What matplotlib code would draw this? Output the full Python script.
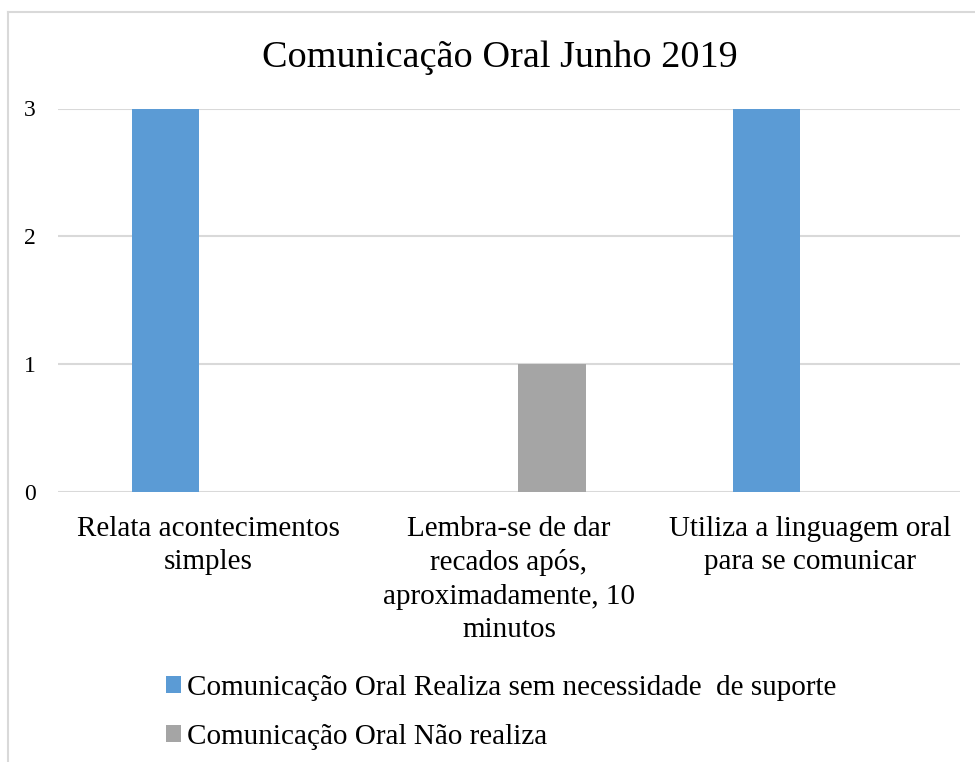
import matplotlib.pyplot as plt
from matplotlib.patches import Patch
from matplotlib.lines import Line2D
import numpy as np

plt.rcParams['font.family'] = ['Liberation Serif', 'DejaVu Serif']

categories = [
    "Relata acontecimentos\nsimples",
    "Lembra-se de dar\nrecados após,\naproximadamente, 10\nminutos",
    "Utiliza a linguagem oral\npara se comunicar",
]
series_names = [
    "Comunicação Oral Realiza sem necessidade  de suporte",
    "Comunicação Oral Não realiza",
]
realiza = [3, 0, 3]
nao_realiza = [0, 1, 0]
colors = ["#5B9BD5", "#A5A5A5"]

W, H = 975, 762
fig = plt.figure(figsize=(W / 100, H / 100), dpi=100)
ax = fig.add_axes([58 / W, (H - 492) / H, (960 - 58) / W, (492 - 108.5) / H])

x = np.arange(len(categories))
bw = 0.223
off = 0.143
ax.bar(x - off, realiza, bw, color=colors[0], zorder=3)
ax.bar(x + off, nao_realiza, bw, color=colors[1], zorder=3)

ax.set_xlim(-0.5, len(categories) - 0.5)
ax.set_ylim(0, 3)
ax.set_yticks([0, 1, 2, 3])
ax.yaxis.grid(True, color="#D9D9D9", linewidth=1.5, zorder=0)
ax.set_axisbelow(True)
for s in ax.spines.values():
    s.set_visible(False)
ax.tick_params(axis="y", length=0, labelsize=17, pad=16)
ax.set_xticks(x)
ax.set_xticklabels(categories, fontsize=21, linespacing=1.37)
ax.tick_params(axis="x", length=0, pad=17)

fig.text(500 / W, 1 - 58 / H, "Comunicação Oral Junho 2019", fontsize=27.5,
         ha="center", va="center")

handles = [Patch(facecolor=c, edgecolor="none") for c in colors]
fig.legend(handles, series_names, loc="upper left",
           bbox_to_anchor=(166 / W, 1 - 675 / H), frameon=False, fontsize=21,
           handlelength=0.52, handleheight=0.52, handletextpad=0.2,
           labelspacing=0.8, borderpad=0, borderaxespad=0)

# chart border (cropped on right and bottom)
fig.add_artist(Line2D([8 / W, 1], [1 - 12 / H, 1 - 12 / H], color="#D9D9D9", linewidth=1.5))
fig.add_artist(Line2D([8 / W, 8 / W], [0, 1 - 12 / H], color="#D9D9D9", linewidth=1.5))

fig.savefig("out.png", dpi=100)
